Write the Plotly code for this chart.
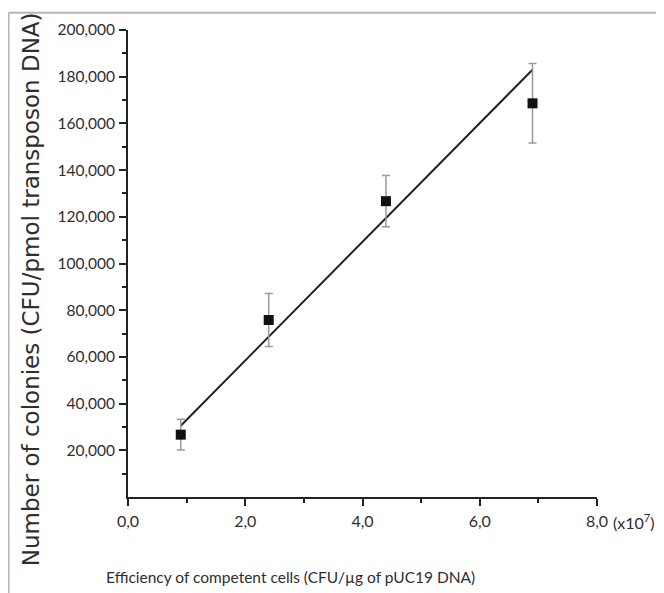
import plotly.graph_objects as go

# ---- data ----
efficiency = [0.9, 2.4, 4.4, 6.9]              # x10^7 CFU/ug pUC19 DNA
colonies = [26700, 75800, 126700, 168600]      # CFU/pmol transposon DNA
colonies_err = [6600, 11300, 11000, 17000]
fit_x = [0.9, 6.9]
fit_y = [30500, 183000]

x_tickvals = [0, 2, 4, 6, 8]
x_ticktext = ["0,0", "2,0", "4,0", "6,0", "8,0"]
y_tickvals = [20000, 40000, 60000, 80000, 100000, 120000, 140000, 160000, 180000, 200000]
y_ticktext = ["20,000", "40,000", "60,000", "80,000", "100,000", "120,000",
              "140,000", "160,000", "180,000", "200,000"]

OFF = 8  # page body margin
W, H = 664 - OFF, 593 - OFF
L, R, T, B = 120, 67, 17, 96
pw, ph = W - L - R, H - T - B

def px(x):  # screen x -> paper
    return (x - OFF - L) / pw

def py(y):  # screen y -> paper
    return (H - B - (y - OFF)) / ph

TXT = "#2e2e2e"
FONT = "Lato, sans-serif"

fig = go.Figure()
fig.add_trace(go.Scatter(
    x=fit_x, y=fit_y, mode="lines",
    line=dict(color="#222222", width=2), showlegend=False, hoverinfo="skip"))
fig.add_trace(go.Scatter(
    x=efficiency, y=colonies, mode="markers",
    marker=dict(symbol="square", size=10, color="#111111"),
    error_y=dict(type="data", array=colonies_err, visible=True,
                 color="#9a9a9a", thickness=1.5, width=4),
    showlegend=False))

fig.update_xaxes(
    range=[0, 8], tickvals=x_tickvals, ticktext=x_ticktext,
    showline=True, linecolor="#222222", linewidth=2, mirror=False,
    ticks="outside", ticklen=7, tickwidth=2, tickcolor="#222222",
    minor=dict(tickvals=[1, 3, 5, 7], ticks="outside", ticklen=4,
               tickwidth=2, tickcolor="#222222"),
    showgrid=False, zeroline=False, ticklabelstandoff=2,
    tickfont=dict(family=FONT, size=16, color=TXT))
fig.update_yaxes(
    range=[0, 200000], tickvals=y_tickvals, ticktext=y_ticktext,
    showline=True, linecolor="#222222", linewidth=2, mirror=False,
    ticks="outside", ticklen=7, tickwidth=2, tickcolor="#222222",
    minor=dict(tickvals=[10000, 30000, 50000, 70000, 90000, 110000,
                         130000, 150000, 170000, 190000],
               ticks="outside", ticklen=4, tickwidth=2, tickcolor="#222222"),
    showgrid=False, zeroline=False, ticklabelstandoff=1,
    tickfont=dict(family=FONT, size=15.5, color=TXT))

annotations = [
    dict(text="Efficiency of competent cells (CFU/\u00b5g of pUC19 DNA)",
         xref="paper", yref="paper", x=px(290), y=py(578),
         xanchor="center", yanchor="middle", showarrow=False,
         font=dict(family=FONT, size=15.5, color=TXT)),
    dict(text="Number of colonies (CFU/pmol transposon DNA)",
         xref="paper", yref="paper", x=px(31), y=py(287),
         xanchor="center", yanchor="middle", showarrow=False, textangle=-90,
         font=dict(family="DejaVu Sans", size=23, color=TXT)),
    dict(text="(x10<sup>7</sup>)",
         xref="paper", yref="paper", x=px(611), y=py(522),
         xanchor="left", yanchor="middle", showarrow=False,
         font=dict(family=FONT, size=16, color=TXT)),
]

shapes = [
    dict(type="line", xref="paper", yref="paper",
         x0=px(8.5), x1=px(8.5), y0=py(7.5), y1=py(600),
         line=dict(color="#b4b4b4", width=2)),
    dict(type="line", xref="paper", yref="paper",
         x0=px(8.5), x1=px(670), y0=py(7.5), y1=py(7.5),
         line=dict(color="#b4b4b4", width=2)),
    dict(type="line", xref="paper", yref="paper",
         x0=px(660), x1=px(660), y0=py(7), y1=py(600),
         line=dict(color="#ececec", width=1)),
]

fig.update_layout(
    width=W, height=H,
    margin=dict(l=L, r=R, t=T, b=B),
    paper_bgcolor="white", plot_bgcolor="white",
    annotations=annotations, shapes=shapes,
)

fig.write_html("out.html")
